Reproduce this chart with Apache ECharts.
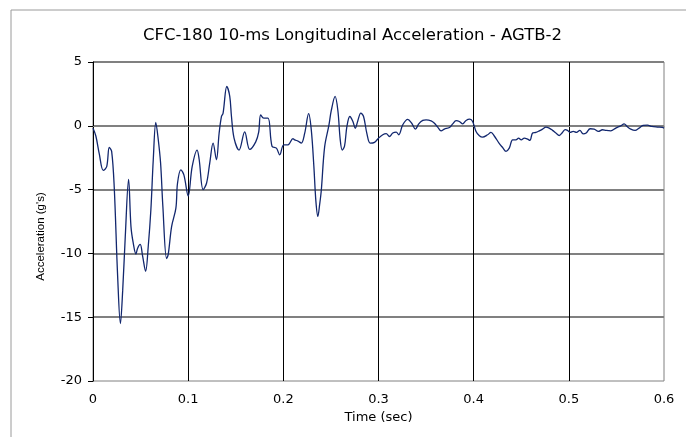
<!DOCTYPE html>
<html>
<head>
<meta charset="utf-8">
<script src="https://cdn.jsdelivr.net/npm/echarts@6/dist/echarts.min.js"></script>
<style>
html,body{margin:0;padding:0;background:#fff;}
#chart{width:686px;height:437px;}
</style>
</head>
<body>
<div id="chart"></div>
<script>
var chartTitle = "CFC-180 10-ms Longitudinal Acceleration - AGTB-2";
var xAxisName = "Time (sec)";
var yAxisName = "Acceleration (g's)";
var xTicks = [0, 0.1, 0.2, 0.3, 0.4, 0.5, 0.6];
var yTicks = [-20, -15, -10, -5, 0, 5];

var timeSec = [
  0.000, 0.003, 0.0066, 0.0108, 0.0144, 0.0171, 0.0196, 0.0223, 0.0259, 0.0288,
  0.0312, 0.0339, 0.0374, 0.0399, 0.0423, 0.0451, 0.0469, 0.0496, 0.0521, 0.0553,
  0.0580, 0.0608, 0.0633, 0.0660, 0.0682, 0.0710, 0.0734, 0.0773, 0.0790, 0.0826,
  0.0871, 0.0888, 0.0923, 0.0955, 0.1000, 0.1042, 0.1094, 0.1115, 0.1157, 0.1193,
  0.1227, 0.1262, 0.1297, 0.1325, 0.1350, 0.1367, 0.1406, 0.1437, 0.1455, 0.1482,
  0.1535, 0.1594, 0.1647, 0.1710, 0.1741, 0.1762, 0.1794, 0.1839, 0.1881, 0.1927,
  0.1962, 0.2004, 0.2049, 0.2101, 0.2119, 0.2154, 0.2189, 0.2224, 0.2266, 0.2294,
  0.2321, 0.2342, 0.2363, 0.2381, 0.2399, 0.2434, 0.2479, 0.2504, 0.2544, 0.2573,
  0.2598, 0.2619, 0.2643, 0.2668, 0.2699, 0.2731, 0.2756, 0.2783, 0.2814, 0.2843,
  0.2877, 0.2913, 0.2958, 0.3000, 0.3045, 0.3081, 0.3115, 0.3150, 0.3186, 0.3213,
  0.3255, 0.3307, 0.3349, 0.3388, 0.3423, 0.3465, 0.3500, 0.3553, 0.3588, 0.3622,
  0.3658, 0.3692, 0.3745, 0.3780, 0.3815, 0.3850, 0.3885, 0.3920, 0.3960, 0.3989,
  0.4025, 0.4060, 0.4094, 0.4147, 0.4182, 0.4217, 0.4270, 0.4304, 0.4340, 0.4374,
  0.4409, 0.4444, 0.4472, 0.4500, 0.4532, 0.4567, 0.4591, 0.4619, 0.4654, 0.4689,
  0.4724, 0.4759, 0.4794, 0.4829, 0.4864, 0.4899, 0.4933, 0.4962, 0.4986, 0.5014,
  0.5046, 0.5080, 0.5116, 0.5150, 0.5182, 0.5224, 0.5266, 0.5311, 0.5353, 0.5392,
  0.5441, 0.5493, 0.5546, 0.5581, 0.5612, 0.5651, 0.5696, 0.5738, 0.5780, 0.5826,
  0.5872, 0.5930, 0.5983, 0.6000
];
var accelG = [
  -0.2, -0.8, -2.2, -3.5, -3.2, -1.7, -2.0, -4.8, -11.8, -15.5,
  -12.9, -8.7, -4.2, -7.9, -9.2, -10.05, -9.6, -9.3, -10.2, -11.4,
  -9.5, -6.6, -2.7, 0.26, -0.84, -2.9, -6.3, -10.4, -10.1, -7.9,
  -6.45, -4.5, -3.45, -3.85, -5.5, -3.2, -1.9, -2.6, -5.0, -4.5,
  -2.9, -1.36, -2.66, -0.6, 0.73, 1.0, 3.08, 2.3, 0.73, -0.96,
  -1.9, -0.47, -1.85, -1.26, -0.5, 0.85, 0.6, 0.6, -1.6, -1.75,
  -2.27, -1.49, -1.49, -1.0, -1.1, -1.2, -1.35, -0.6, 0.95, -0.34,
  -3.2, -5.9, -7.1, -6.2, -5.05, -1.65, 0.05, 1.2, 2.3, 1.2,
  -1.1, -1.9, -1.6, -0.05, 0.73, 0.34, -0.2, 0.4, 1.0, 0.73,
  -0.57, -1.36, -1.3, -0.97, -0.7, -0.62, -0.84, -0.57, -0.5, -0.7,
  0.08, 0.5, 0.2, -0.26, 0.15, 0.42, 0.47, 0.39, 0.2, -0.1,
  -0.4, -0.26, -0.13, 0.15, 0.4, 0.34, 0.15, 0.42, 0.52, 0.34,
  -0.44, -0.78, -0.89, -0.7, -0.52, -0.8, -1.4, -1.7, -2.0, -1.75,
  -1.1, -1.1, -0.97, -1.1, -0.97, -1.05, -1.15, -0.57, -0.52, -0.4,
  -0.26, -0.1, -0.18, -0.36, -0.57, -0.76, -0.52, -0.3, -0.36, -0.52,
  -0.44, -0.52, -0.36, -0.63, -0.57, -0.23, -0.26, -0.44, -0.31, -0.36,
  -0.39, -0.18, 0.0, 0.15, -0.05, -0.26, -0.36, -0.18, 0.03, 0.05,
  -0.05, -0.1, -0.13, -0.2
];

var seriesData = timeSec.map(function (t, i) { return [t, accelG[i]]; });

var chart = echarts.init(document.getElementById('chart'), null, {renderer: 'canvas'});
var font = 'DejaVu Sans, Liberation Sans, Arial, sans-serif';
var font2 = 'Liberation Sans, Arial, sans-serif';
chart.setOption({
  animation: false,
  backgroundColor: '#ffffff',
  title: {
    text: chartTitle,
    left: 138,
    top: 22,
    textStyle: {fontFamily: font, fontSize: 16.5, fontWeight: 'normal', color: '#000'}
  },
  graphic: [{
    type: 'rect',
    shape: {x: 11, y: 10, width: 700, height: 460},
    style: {fill: null, stroke: '#9a9a9a', lineWidth: 1},
    silent: true,
    z: -1
  }],
  grid: {
    left: 93, right: 22, top: 62, bottom: 56,
    show: true,
    borderColor: '#808080',
    borderWidth: 1,
    backgroundColor: '#ffffff'
  },
  xAxis: {
    type: 'value',
    min: xTicks[0],
    max: xTicks[xTicks.length - 1],
    interval: 0.1,
    name: xAxisName,
    nameLocation: 'middle',
    nameGap: 22,
    nameTextStyle: {fontFamily: font, fontSize: 13, color: '#000'},
    axisLine: {show: true, lineStyle: {color: '#808080', width: 1}},
    axisTick: {show: false},
    axisLabel: {
      fontFamily: font, fontSize: 13, color: '#000', margin: 12,
      formatter: function (v) { return String(+v.toFixed(1)); }
    },
    splitLine: {show: true, showMinLine: false, showMaxLine: false, lineStyle: {color: '#000000', width: 1}}
  },
  yAxis: {
    type: 'value',
    min: yTicks[0],
    max: yTicks[yTicks.length - 1],
    interval: 5,
    name: yAxisName,
    nameLocation: 'middle',
    nameGap: 46,
    nameTextStyle: {fontFamily: font2, fontSize: 11.5, color: '#000', padding: [0, 30, 0, 0]},
    axisLine: {show: true, onZero: false, lineStyle: {color: '#000000', width: 1}},
    axisTick: {show: true, inside: false, length: 5, lineStyle: {color: '#000000'}},
    axisLabel: {fontFamily: font, fontSize: 13, color: '#000', margin: 11},
    splitLine: {show: true, showMinLine: false, lineStyle: {color: '#808080', width: 2}}
  },
  series: [{
    type: 'line',
    data: seriesData,
    showSymbol: false,
    smooth: 0.35,
    lineStyle: {color: '#12276e', width: 1.3},
    z: 5
  }]
});
</script>
</body>
</html>
